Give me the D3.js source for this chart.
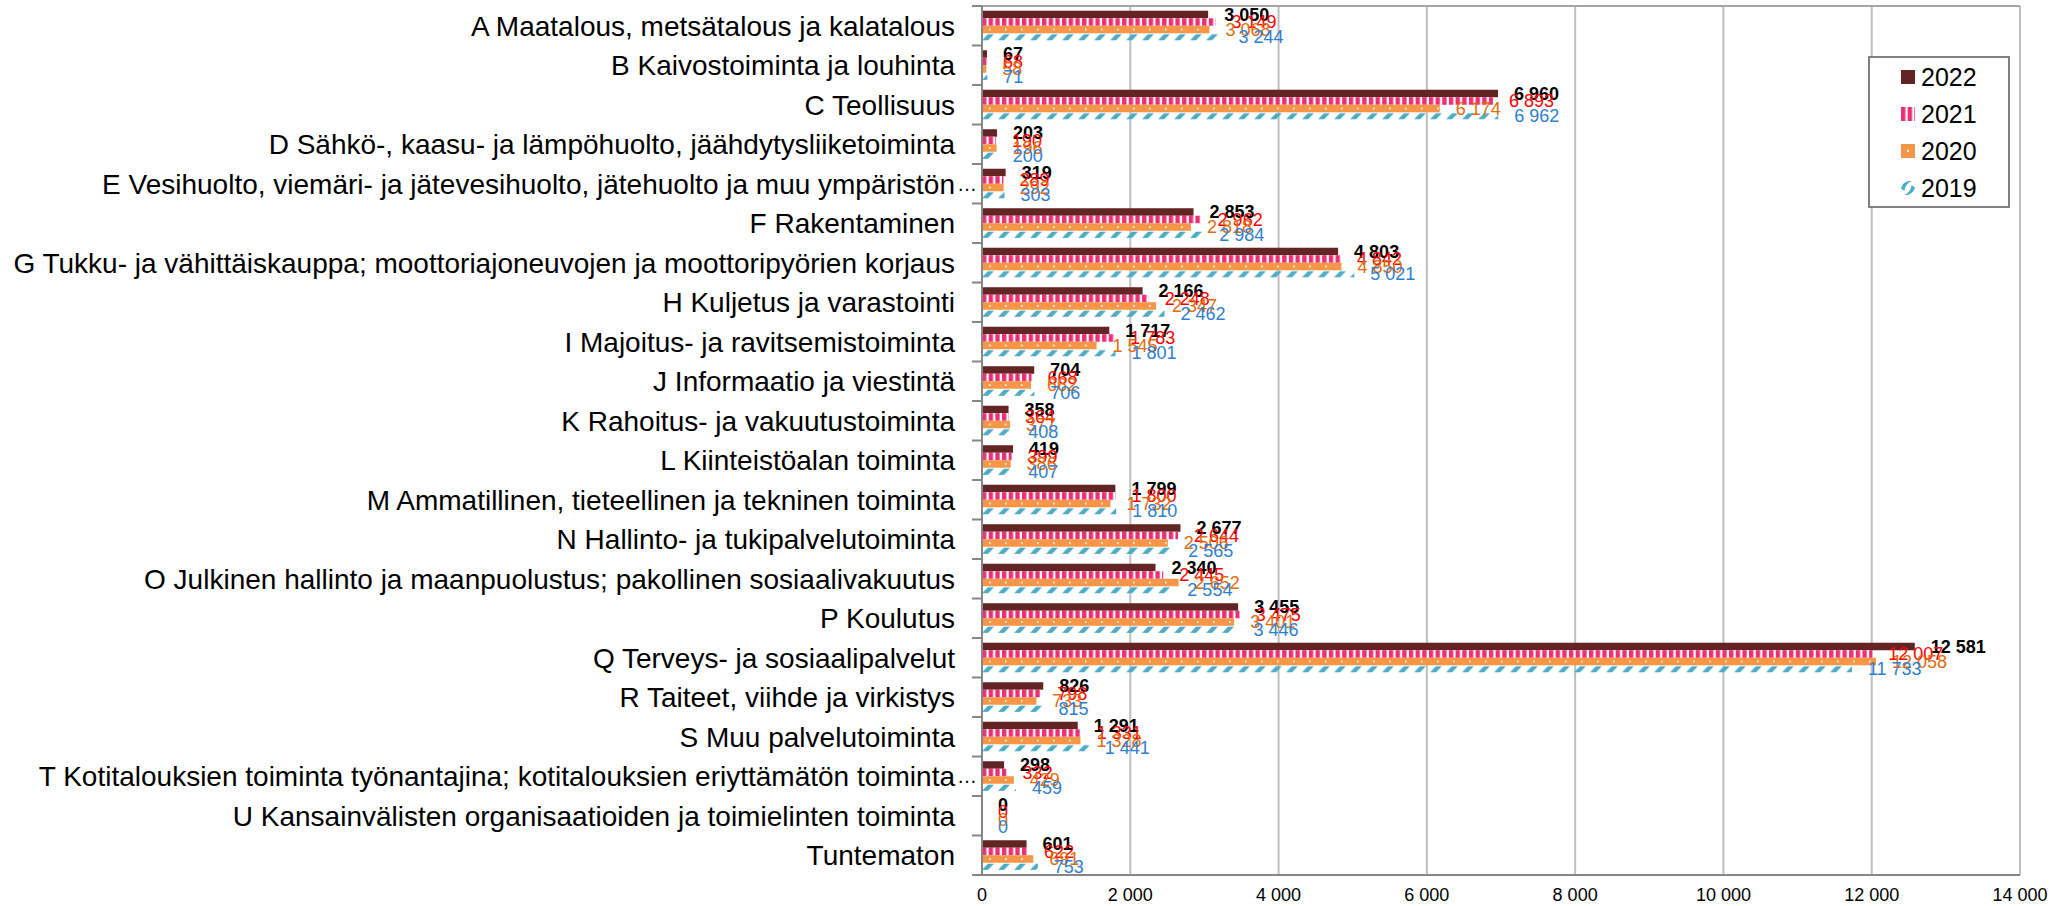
<!DOCTYPE html>
<html>
<head>
<meta charset="utf-8">
<script src="https://cdn.jsdelivr.net/npm/d3@7"></script>
<style>
body { margin: 0; background: #fff; }
svg { display: block; font-family: "Liberation Sans", Arial, sans-serif; }
</style>
</head>
<body>
<svg id="chart" width="2054" height="906"></svg>
<script>
const categories = [
    "A Maatalous, metsätalous ja kalatalous",
    "B Kaivostoiminta ja louhinta",
    "C Teollisuus",
    "D Sähkö-, kaasu- ja lämpöhuolto, jäähdytysliiketoiminta",
    "E Vesihuolto, viemäri- ja jätevesihuolto, jätehuolto ja muu ympäristön…",
    "F Rakentaminen",
    "G Tukku- ja vähittäiskauppa; moottoriajoneuvojen ja moottoripyörien korjaus",
    "H Kuljetus ja varastointi",
    "I Majoitus- ja ravitsemistoiminta",
    "J Informaatio ja viestintä",
    "K Rahoitus- ja vakuutustoiminta",
    "L Kiinteistöalan toiminta",
    "M Ammatillinen, tieteellinen ja tekninen toiminta",
    "N Hallinto- ja tukipalvelutoiminta",
    "O Julkinen hallinto ja maanpuolustus; pakollinen sosiaalivakuutus",
    "P Koulutus",
    "Q Terveys- ja sosiaalipalvelut",
    "R Taiteet, viihde ja virkistys",
    "S Muu palvelutoiminta",
    "T Kotitalouksien toiminta työnantajina; kotitalouksien eriyttämätön toiminta…",
    "U Kansainvälisten organisaatioiden ja toimielinten toiminta",
    "Tuntematon"
];

const years = ["2022", "2021", "2020", "2019"];

const values2022 = [3050, 67, 6960, 203, 319, 2853, 4803, 2166, 1717, 704, 358, 419, 1799, 2677, 2340, 3455, 12581, 826, 1291, 298, 0, 601];
const values2021 = [3149, 68, 6893, 190, 289, 2962, 4842, 2248, 1783, 668, 364, 399, 1800, 2644, 2445, 3475, 12007, 798, 1331, 332, 0, 622];
const values2020 = [3068, 58, 6174, 196, 292, 2818, 4850, 2347, 1545, 662, 377, 386, 1732, 2506, 2652, 3401, 12058, 733, 1328, 429, 0, 691];
const values2019 = [3244, 71, 6962, 200, 303, 2984, 5021, 2462, 1801, 706, 408, 407, 1810, 2565, 2554, 3446, 11733, 815, 1441, 459, 0, 753];

const xTicks = [0, 2000, 4000, 6000, 8000, 10000, 12000, 14000];

const seriesValues = [values2022, values2021, values2020, values2019];
const labelColors = ["#000000", "#ff0000", "#e36c0a", "#2f80d0"];

const svg = d3.select("#chart");
const margin = { top: 6, right: 34, bottom: 31, left: 982 };
const width = 2054 - margin.left - margin.right;
const height = 906 - margin.top - margin.bottom;

const fmt = d3.formatLocale({ decimal: ",", thousands: " ", grouping: [3], currency: ["", ""] }).format(",d");

const x = d3.scaleLinear().domain([0, 14000]).range([0, width]);
const y = d3.scaleBand().domain(categories).range([0, height]).paddingInner(0.24).paddingOuter(0.12);
const y1 = d3.scaleBand().domain(years).range([0, y.bandwidth()]);

const g = svg.append("g").attr("transform", "translate(" + margin.left + "," + margin.top + ")");

// patterns: bars sit inside a per-row group, so the tile origin is the row top
const step = y.step();
const bw = y1.bandwidth();
const defs = svg.append("defs");

const pStripe = defs.append("pattern").attr("id", "p2021")
    .attr("patternUnits", "userSpaceOnUse").attr("width", 6.67).attr("height", step);
pStripe.append("rect").attr("width", 6.67).attr("height", step).attr("fill", "#ef2f74");
pStripe.append("rect").attr("x", 4.4).attr("width", 2.27).attr("height", step).attr("fill", "#fff");

const pDot = defs.append("pattern").attr("id", "p2020")
    .attr("patternUnits", "userSpaceOnUse").attr("width", 16).attr("height", step);
pDot.append("rect").attr("width", 16).attr("height", step).attr("fill", "#f79646");
pDot.append("rect").attr("x", 7).attr("y", y1("2020") + bw / 2 - 0.8)
    .attr("width", 1.6).attr("height", 1.6).attr("fill", "#fff");

const pDash = defs.append("pattern").attr("id", "p2019")
    .attr("patternUnits", "userSpaceOnUse").attr("width", 16).attr("height", step);
const dTop = y1("2019");
pDash.append("polygon")
    .attr("points", [[0, dTop + bw - 0.5], [6, dTop + bw - 0.5], [12, dTop + 1], [6, dTop + 1]].join(" "))
    .attr("fill", "#4bacc6");

const lDash = defs.append("pattern").attr("id", "l2019")
    .attr("patternUnits", "objectBoundingBox").attr("patternContentUnits", "objectBoundingBox")
    .attr("width", 1).attr("height", 1);
lDash.append("path").attr("d", "M0,0.55 Q0.1,0.1 0.55,0 L0.75,0 Q0.3,0.2 0.25,0.7 Z").attr("fill", "#4bacc6");
lDash.append("path").attr("d", "M1,0.45 Q0.9,0.9 0.45,1 L0.25,1 Q0.7,0.8 0.75,0.3 Z").attr("fill", "#4bacc6");

const fills = ["#632523", "url(#p2021)", "url(#p2020)", "url(#p2019)"];

// gridlines
g.selectAll(".grid").data(xTicks.slice(1)).enter().append("line")
    .attr("x1", d => x(d)).attr("x2", d => x(d))
    .attr("y1", 0).attr("y2", height)
    .attr("stroke", "#bfbfbf").attr("stroke-width", 2);

g.append("line").attr("x1", -10).attr("x2", width).attr("y1", 0).attr("y2", 0)
    .attr("stroke", "#a6a6a6").attr("stroke-width", 2);

// bars
const rows = g.selectAll(".row").data(categories).enter().append("g")
    .attr("transform", d => "translate(0," + y(d) + ")");

years.forEach(function (yr, s) {
    rows.append("rect")
        .attr("x", 0)
        .attr("y", y1(yr))
        .attr("width", (d, i) => x(seriesValues[s][i]))
        .attr("height", bw)
        .attr("fill", fills[s]);
});

years.forEach(function (yr, s) {
    rows.append("text")
        .attr("x", (d, i) => x(seriesValues[s][i]) + 16)
        .attr("y", y1(yr) + bw / 2)
        .attr("dy", "0.36em")
        .attr("font-size", 18)
        .attr("font-weight", s === 0 ? "bold" : "normal")
        .attr("fill", labelColors[s])
        .text((d, i) => fmt(seriesValues[s][i]));
});

// axes
const boundaries = categories.map(c => y(c) - step * y.paddingInner() / 2).concat([height]);
g.selectAll(".ytick").data(boundaries).enter().append("line")
    .attr("x1", -10).attr("x2", 0)
    .attr("y1", d => d).attr("y2", d => d)
    .attr("stroke", "#868686").attr("stroke-width", 2);

g.append("line").attr("x1", 0).attr("x2", 0).attr("y1", 0).attr("y2", height)
    .attr("stroke", "#868686").attr("stroke-width", 2);
g.append("line").attr("x1", -10).attr("x2", width).attr("y1", height).attr("y2", height)
    .attr("stroke", "#868686").attr("stroke-width", 2);

// category labels; a trailing ellipsis hangs past the label edge
g.selectAll(".ylabel").data(categories).enter().append("text")
    .attr("x", -27)
    .attr("y", d => y(d) + y.bandwidth() / 2)
    .attr("dy", "0.36em")
    .attr("text-anchor", "end")
    .attr("font-size", 28)
    .attr("fill", "#000")
    .text(d => d.replace(/…$/, ""));

g.selectAll(".ellipsis").data(categories.filter(d => /…$/.test(d))).enter().append("text")
    .attr("x", -25)
    .attr("y", d => y(d) + y.bandwidth() / 2)
    .attr("dy", "0.36em")
    .attr("font-size", 20)
    .attr("fill", "#000")
    .text("…");

g.selectAll(".xlabel").data(xTicks).enter().append("text")
    .attr("x", d => x(d))
    .attr("y", height + 20)
    .attr("dy", "0.36em")
    .attr("text-anchor", "middle")
    .attr("font-size", 18)
    .attr("fill", "#000")
    .text(d => fmt(d));

// legend
const legend = svg.append("g").attr("transform", "translate(1869,57)");
legend.append("rect").attr("width", 140).attr("height", 150)
    .attr("fill", "#fff").attr("stroke", "#808080").attr("stroke-width", 2);

const items = legend.selectAll(".item").data(years).enter().append("g")
    .attr("transform", (d, i) => "translate(32," + (20 + i * 37) + ")");
items.append("rect")
    .attr("x", 0).attr("y", -7).attr("width", 14).attr("height", 14)
    .attr("fill", (d, i) => i === 3 ? "url(#l2019)" : fills[i]);
items.filter(d => d === "2020").append("rect")
    .attr("x", 6).attr("y", -1).attr("width", 2).attr("height", 2).attr("fill", "#fff");
items.append("text")
    .attr("x", 20).attr("dy", "0.36em")
    .attr("font-size", 25)
    .text(d => d);
</script>
</body>
</html>
